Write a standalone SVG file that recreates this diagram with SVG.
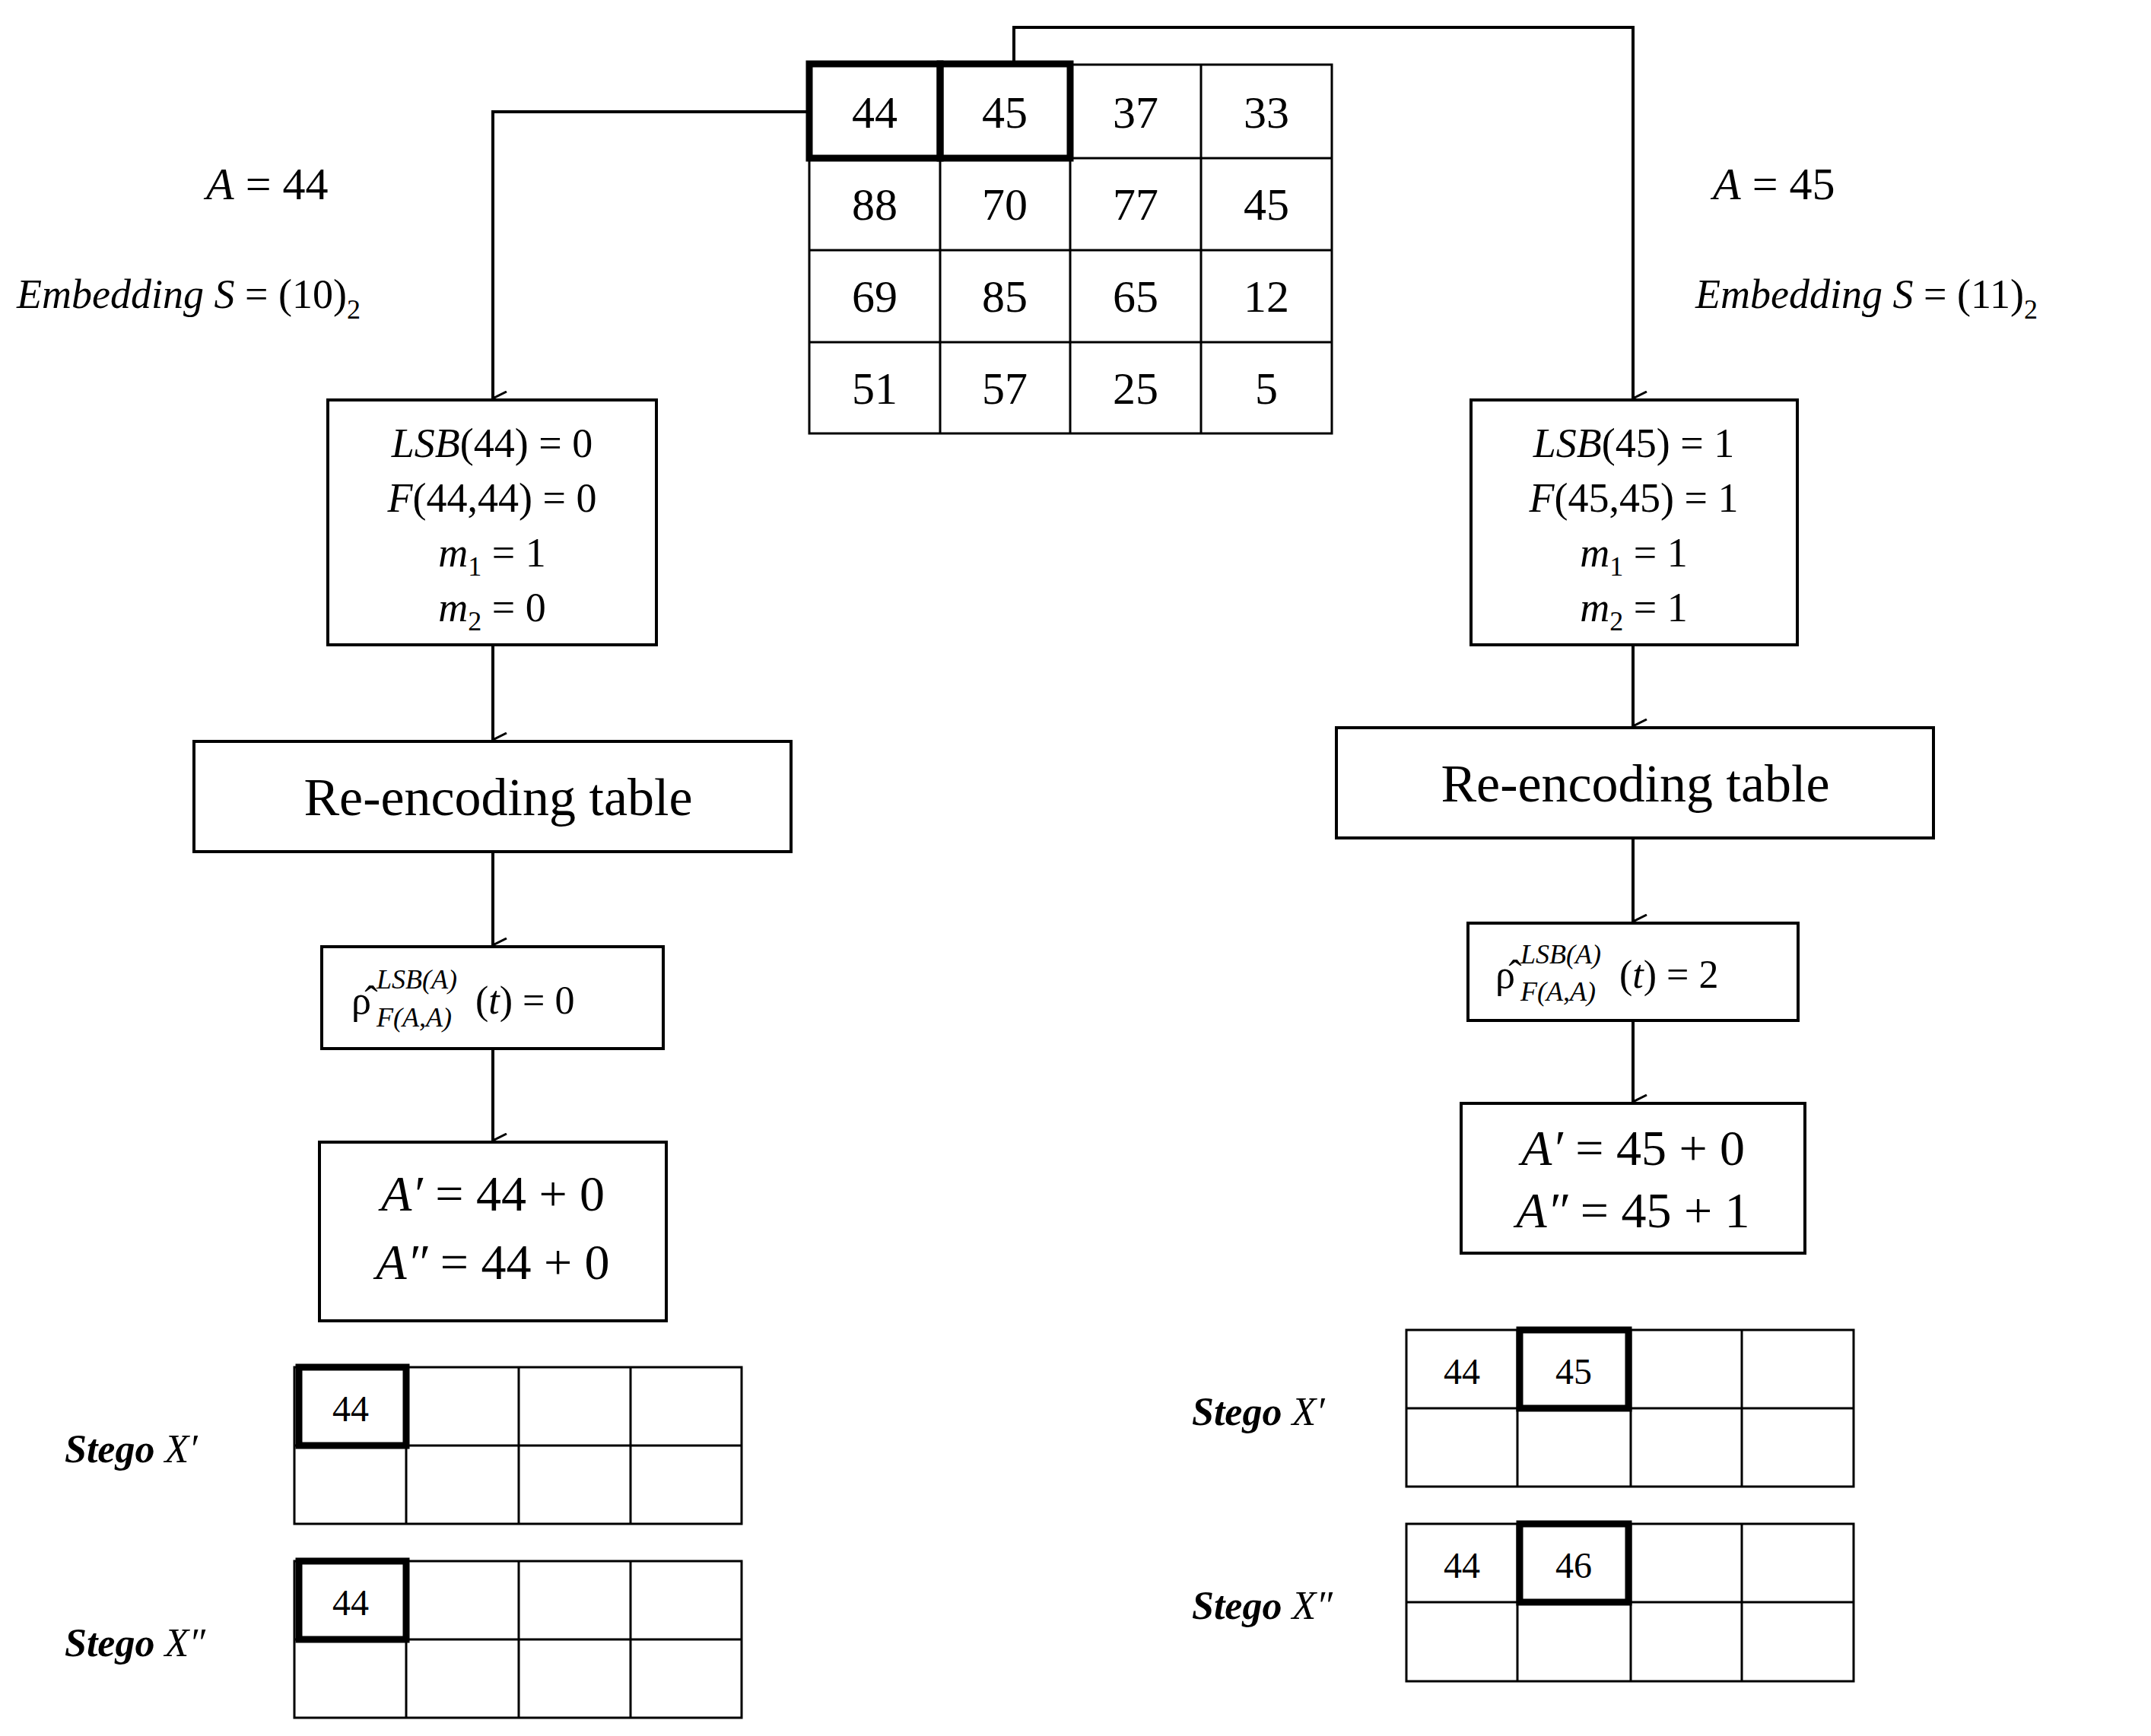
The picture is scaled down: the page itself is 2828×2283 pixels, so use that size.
<svg xmlns="http://www.w3.org/2000/svg" width="2828" height="2283" viewBox="0 0 2828 2283">
<defs>
<marker id="ah" viewBox="0 0 20 20" refX="10" refY="19" markerWidth="20" markerHeight="20" markerUnits="userSpaceOnUse" orient="auto-start-reverse">
<path d="M1 1 L10 19 L19 1" fill="none" stroke="#000" stroke-width="3"/>
</marker>
<style>
text{font-family:"Liberation Serif","DejaVu Serif",serif;fill:#000}
.c{text-anchor:middle}
.g{fill:none;stroke:#000;stroke-width:3}
.th{fill:none;stroke:#000;stroke-width:9}
.bx{fill:#fff;stroke:#000;stroke-width:4}
.n{font-size:60px}
.m{font-size:54px}
.i{font-style:italic}
.s{font-size:48px}
.lb{font-size:52px;font-weight:bold;font-style:italic}
.cn{fill:none;stroke:#000;stroke-width:4;marker-end:url(#ah)}
</style>
</defs>
<rect width="2828" height="2283" fill="#fff"/>
<g id="connectors">
<path class="cn" d="M1064 147 H648 V524"/>
<path class="cn" d="M1333 82 V36 H2147 V524"/>
<path class="cn" d="M648 848 V973"/>
<path class="cn" d="M648 1120 V1243"/>
<path class="cn" d="M648 1379 V1500"/>
<path class="cn" d="M2147 848 V955"/>
<path class="cn" d="M2147 1102 V1212"/>
<path class="cn" d="M2147 1342 V1449"/>
</g>
<g id="cover-grid">
<path class="g" d="M1064 85 H1751 V570 H1064 Z M1064 208 H1751 M1064 329 H1751 M1064 450 H1751 M1236 85 V570 M1407 85 V570 M1579 85 V570"/>
<rect class="th" x="1064" y="84" width="172" height="124"/>
<rect class="th" x="1236" y="84" width="171" height="124"/>
<g class="n c">
<text x="1150" y="168">44</text><text x="1321" y="168">45</text><text x="1493" y="168">37</text><text x="1665" y="168">33</text>
<text x="1150" y="289">88</text><text x="1321" y="289">70</text><text x="1493" y="289">77</text><text x="1665" y="289">45</text>
<text x="1150" y="410">69</text><text x="1321" y="410">85</text><text x="1493" y="410">65</text><text x="1665" y="410">12</text>
<text x="1150" y="531">51</text><text x="1321" y="531">57</text><text x="1493" y="531">25</text><text x="1665" y="531">5</text>
</g>
</g>
<g id="labels-left">
<text x="271" y="262" class="n"><tspan class="i">A</tspan> = 44</text>
<text x="22" y="405" class="m"><tspan class="i">Embedding S</tspan> = (10)<tspan font-size="36" dy="14">2</tspan></text>
</g>
<g id="labels-right">
<text x="2252" y="262" class="n"><tspan class="i">A</tspan> = 45</text>
<text x="2229" y="405" class="m"><tspan class="i">Embedding S</tspan> = (11)<tspan font-size="36" dy="14">2</tspan></text>
</g>
<g id="left-params">
<rect class="bx" x="431" y="526" width="432" height="322"/>
<g class="m c">
<text x="647" y="601"><tspan class="i">LSB</tspan>(44) = 0</text>
<text x="647" y="673"><tspan class="i">F</tspan>(44,44) = 0</text>
<text x="647" y="745"><tspan class="i">m</tspan><tspan font-size="36" dy="12">1</tspan><tspan dy="-12"> = 1</tspan></text>
<text x="647" y="817"><tspan class="i">m</tspan><tspan font-size="36" dy="12">2</tspan><tspan dy="-12"> = 0</tspan></text>
</g>
</g>
<g id="right-params">
<rect class="bx" x="1934" y="526" width="429" height="322"/>
<g class="m c">
<text x="2148" y="601"><tspan class="i">LSB</tspan>(45) = 1</text>
<text x="2148" y="673"><tspan class="i">F</tspan>(45,45) = 1</text>
<text x="2148" y="745"><tspan class="i">m</tspan><tspan font-size="36" dy="12">1</tspan><tspan dy="-12"> = 1</tspan></text>
<text x="2148" y="817"><tspan class="i">m</tspan><tspan font-size="36" dy="12">2</tspan><tspan dy="-12"> = 1</tspan></text>
</g>
</g>
<g id="left-table">
<rect class="bx" x="255" y="975" width="785" height="145"/>
<text x="655" y="1072" class="c" font-size="70">Re-encoding table</text>
</g>
<g id="right-table">
<rect class="bx" x="1757" y="957" width="785" height="145"/>
<text x="2150" y="1054" class="c" font-size="70">Re-encoding table</text>
</g>
<g id="left-rho">
<rect class="bx" x="423" y="1245" width="449" height="134"/>
<text x="462" y="1333" font-size="52">ρ̂</text>
<text x="495" y="1300" font-size="36" class="i">LSB(A)</text>
<text x="495" y="1350" font-size="36" class="i">F(A,A)</text>
<text x="625" y="1333" font-size="52">(<tspan class="i">t</tspan>) = 0</text>
</g>
<g id="right-rho">
<rect class="bx" x="1930" y="1214" width="434" height="128"/>
<text x="1966" y="1299" font-size="52">ρ̂</text>
<text x="1999" y="1267" font-size="36" class="i">LSB(A)</text>
<text x="1999" y="1316" font-size="36" class="i">F(A,A)</text>
<text x="2129" y="1299" font-size="52">(<tspan class="i">t</tspan>) = 2</text>
</g>
<g id="left-result">
<rect class="bx" x="420" y="1502" width="456" height="235"/>
<g class="c" font-size="66">
<text x="648" y="1592"><tspan class="i">A′</tspan> = 44 + 0</text>
<text x="648" y="1682"><tspan class="i">A″</tspan> = 44 + 0</text>
</g>
</g>
<g id="right-result">
<rect class="bx" x="1921" y="1451" width="452" height="197"/>
<g class="c" font-size="66">
<text x="2147" y="1532"><tspan class="i">A′</tspan> = 45 + 0</text>
<text x="2147" y="1614"><tspan class="i">A″</tspan> = 45 + 1</text>
</g>
</g>
<g id="left-stego1">
<text x="85" y="1923" class="lb">Stego <tspan font-weight="normal">X′</tspan></text>
<path class="g" d="M387 1798 H975 V2004 H387 Z M387 1901 H975 M534 1798 V2004 M682 1798 V2004 M829 1798 V2004"/>
<rect class="th" x="393" y="1798" width="141" height="103"/>
<text x="461" y="1869" class="s c">44</text>
</g>
<g id="left-stego2">
<text x="85" y="2178" class="lb">Stego <tspan font-weight="normal">X″</tspan></text>
<path class="g" d="M387 2053 H975 V2259 H387 Z M387 2156 H975 M534 2053 V2259 M682 2053 V2259 M829 2053 V2259"/>
<rect class="th" x="393" y="2053" width="141" height="103"/>
<text x="461" y="2124" class="s c">44</text>
</g>
<g id="right-stego1">
<text x="1567" y="1874" class="lb">Stego <tspan font-weight="normal">X′</tspan></text>
<path class="g" d="M1849 1749 H2437 V1955 H1849 Z M1849 1852 H2437 M1995 1749 V1955 M2144 1749 V1955 M2290 1749 V1955"/>
<rect class="th" x="1998" y="1749" width="143" height="103"/>
<text x="1922" y="1820" class="s c">44</text>
<text x="2069" y="1820" class="s c">45</text>
</g>
<g id="right-stego2">
<text x="1567" y="2129" class="lb">Stego <tspan font-weight="normal">X″</tspan></text>
<path class="g" d="M1849 2004 H2437 V2211 H1849 Z M1849 2107 H2437 M1995 2004 V2211 M2144 2004 V2211 M2290 2004 V2211"/>
<rect class="th" x="1998" y="2004" width="143" height="103"/>
<text x="1922" y="2075" class="s c">44</text>
<text x="2069" y="2075" class="s c">46</text>
</g>
</svg>
